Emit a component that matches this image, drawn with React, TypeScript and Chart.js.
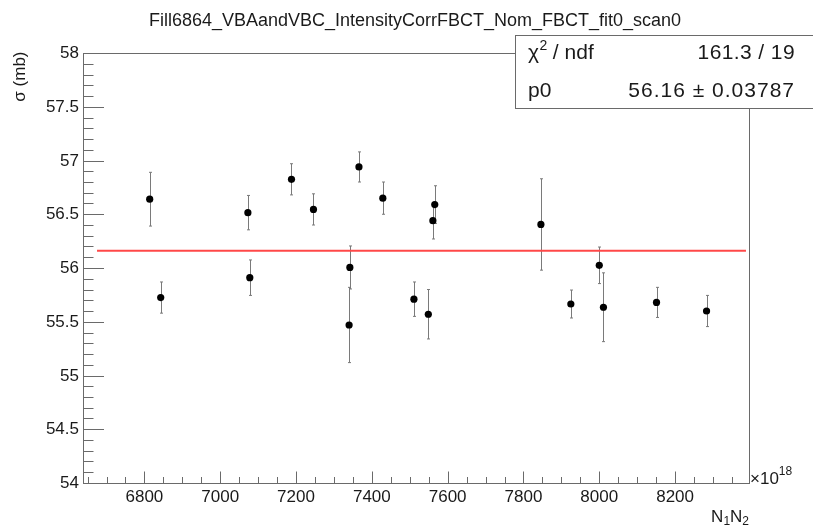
import React, { useEffect, useRef } from "react";
import { Chart, registerables } from "chart.js";

Chart.register(...registerables);

// ---- data ----
const xValues = [6814, 6843, 7073, 7078, 7188, 7246, 7340, 7342, 7366, 7429, 7511, 7549, 7561, 7566, 7846, 7925, 8000, 8011, 8151, 8283];
const sigmaValues = [56.64, 55.725, 56.515, 55.91, 56.825, 56.545, 55.47, 56.005, 56.94, 56.65, 55.71, 55.57, 56.44, 56.59, 56.405, 55.665, 56.025, 55.635, 55.68, 55.6];
const sigmaErrors = [0.25, 0.145, 0.16, 0.165, 0.145, 0.145, 0.35, 0.2, 0.14, 0.15, 0.16, 0.23, 0.17, 0.175, 0.425, 0.13, 0.17, 0.32, 0.14, 0.145];

const fitValue = 56.16;
const fitRange = [6675, 8387];

const xMajorTicks = [6800, 7000, 7200, 7400, 7600, 7800, 8000, 8200];
const xMinorTicks = [6650, 6700, 6750, 6850, 6900, 6950, 7050, 7100, 7150, 7250, 7300, 7350, 7450, 7500, 7550, 7650, 7700, 7750, 7850, 7900, 7950, 8050, 8100, 8150, 8250, 8300, 8350];
const yMajorTicks = [54, 54.5, 55, 55.5, 56, 56.5, 57, 57.5, 58];
const yMajorLabels = ["54", "54.5", "55", "55.5", "56", "56.5", "57", "57.5", "58"];
const yMinorTicks = [54.1, 54.2, 54.3, 54.4, 54.6, 54.7, 54.8, 54.9, 55.1, 55.2, 55.3, 55.4, 55.6, 55.7, 55.8, 55.9, 56.1, 56.2, 56.3, 56.4, 56.6, 56.7, 56.8, 56.9, 57.1, 57.2, 57.3, 57.4, 57.6, 57.7, 57.8, 57.9];

const titleText = "Fill6864_VBAandVBC_IntensityCorrFBCT_Nom_FBCT_fit0_scan0";
const yTitle = "σ (mb)";
const chi2Text = "161.3 / 19";
const p0Text = "56.16 ± 0.03787";

const X_MIN = 6638;
const X_MAX = 8395;
const Y_MIN = 54;
const Y_MAX = 58;

const FONT = '"Liberation Sans", Arial, Helvetica, sans-serif';
const AXIS_COLOR = "#6a6a6a";

const rootPlugin = {
  id: "rootStyle",
  beforeDatasetsDraw(chart: any) {
    const ctx = chart.ctx;
    const xs = chart.scales.x;
    const ys = chart.scales.y;
    ctx.save();
    ctx.strokeStyle = "#7a7a7a";
    ctx.lineWidth = 1;
    for (let i = 0; i < xValues.length; i++) {
      const px = Math.round(xs.getPixelForValue(xValues[i])) + 0.5;
      const yTop = ys.getPixelForValue(sigmaValues[i] + sigmaErrors[i]);
      const yBot = ys.getPixelForValue(sigmaValues[i] - sigmaErrors[i]);
      ctx.beginPath();
      ctx.moveTo(px, yTop);
      ctx.lineTo(px, yBot);
      ctx.moveTo(px - 1.5, yTop);
      ctx.lineTo(px + 1.5, yTop);
      ctx.moveTo(px - 1.5, yBot);
      ctx.lineTo(px + 1.5, yBot);
      ctx.stroke();
    }
    ctx.restore();
  },
  afterDraw(chart: any) {
    const ctx = chart.ctx;
    const xs = chart.scales.x;
    const ys = chart.scales.y;
    const area = chart.chartArea;
    const L = Math.round(area.left) + 0.5;
    const R = Math.round(area.right) + 0.5;
    const T = Math.round(area.top) + 0.5;
    const B = Math.round(area.bottom) + 0.5;
    ctx.save();
    // frame
    ctx.strokeStyle = AXIS_COLOR;
    ctx.lineWidth = 1;
    ctx.strokeRect(L, T, R - L, B - T);

    // y ticks (inside, left)
    ctx.beginPath();
    yMajorTicks.forEach((v) => {
      const py = Math.round(ys.getPixelForValue(v)) + 0.5;
      ctx.moveTo(L, py);
      ctx.lineTo(L + 20.5, py);
    });
    yMinorTicks.forEach((v) => {
      const py = Math.round(ys.getPixelForValue(v)) + 0.5;
      ctx.moveTo(L, py);
      ctx.lineTo(L + 10, py);
    });
    // x ticks (inside, bottom)
    xMajorTicks.forEach((v) => {
      const px = Math.round(xs.getPixelForValue(v)) + 0.5;
      ctx.moveTo(px, B);
      ctx.lineTo(px, B - 12);
    });
    xMinorTicks.forEach((v) => {
      const px = Math.round(xs.getPixelForValue(v)) + 0.5;
      ctx.moveTo(px, B);
      ctx.lineTo(px, B - 6.5);
    });
    ctx.stroke();

    // tick labels
    ctx.fillStyle = "#1a1a1a";
    ctx.font = `17px ${FONT}`;
    ctx.textAlign = "right";
    ctx.textBaseline = "middle";
    yMajorTicks.forEach((v, i) => {
      ctx.fillText(yMajorLabels[i], area.left - 4, ys.getPixelForValue(v) + 0.5);
    });
    ctx.textAlign = "center";
    ctx.textBaseline = "alphabetic";
    xMajorTicks.forEach((v) => {
      ctx.fillText(String(v), xs.getPixelForValue(v), area.bottom + 19);
    });

    // x10^18
    ctx.textAlign = "left";
    ctx.font = `17px ${FONT}`;
    ctx.fillText("×10", area.right + 1, area.bottom + 0.5);
    const w10 = ctx.measureText("×10").width;
    ctx.font = `12px ${FONT}`;
    ctx.fillText("18", area.right + 1 + w10, area.bottom - 8);

    // x title N1N2 right aligned
    const bigN = `17px ${FONT}`;
    const sub = `12px ${FONT}`;
    ctx.font = bigN;
    const nW = ctx.measureText("N").width;
    ctx.font = sub;
    const oneW = ctx.measureText("1").width;
    const twoW = ctx.measureText("2").width;
    let xx = area.right - (nW * 2 + oneW + twoW);
    const by = area.bottom + 38.5;
    ctx.font = bigN;
    ctx.fillText("N", xx, by);
    xx += nW;
    ctx.font = sub;
    ctx.fillText("1", xx, by + 3);
    xx += oneW;
    ctx.font = bigN;
    ctx.fillText("N", xx, by);
    xx += nW;
    ctx.font = sub;
    ctx.fillText("2", xx, by + 3);

    // y title rotated, right-aligned to top
    ctx.save();
    ctx.translate(25, area.top - 1.5);
    ctx.rotate(-Math.PI / 2);
    ctx.font = `17px ${FONT}`;
    ctx.textAlign = "right";
    ctx.textBaseline = "alphabetic";
    ctx.fillText(yTitle, 0, 0);
    ctx.restore();

    // title
    ctx.font = `18px ${FONT}`;
    ctx.textAlign = "center";
    ctx.textBaseline = "alphabetic";
    ctx.fillText(titleText, 415, 26);

    // stats box
    const bx = 515.5, byTop = 35.5, bw = 298, bh = 73;
    ctx.fillStyle = "#ffffff";
    ctx.fillRect(bx, byTop, bw, bh);
    ctx.strokeStyle = AXIS_COLOR;
    ctx.strokeRect(bx, byTop, bw + 2, bh);
    ctx.fillStyle = "#1a1a1a";
    ctx.font = `21px ${FONT}`;
    ctx.textAlign = "left";
    ctx.fillText("χ", 528, 59);
    const chiW = ctx.measureText("χ").width;
    ctx.font = `14px ${FONT}`;
    ctx.fillText("2", 528 + chiW + 0.5, 50);
    ctx.font = `21px ${FONT}`;
    ctx.fillText(" / ndf", 528 + chiW + 8, 59);
    ctx.fillText("p0", 528, 96.5);
    ctx.textAlign = "right";
    const c: any = ctx;
    c.letterSpacing = "0.4px";
    ctx.fillText(chi2Text, 795, 59);
    c.letterSpacing = "1px";
    ctx.fillText(p0Text, 795, 96.5);
    c.letterSpacing = "0px";
    ctx.restore();
  },
};

export default function App() {
  const canvasRef = useRef<HTMLCanvasElement | null>(null);

  useEffect(() => {
    document.body.style.margin = "0";
    const canvas = canvasRef.current;
    if (!canvas) return;
    const chart = new Chart(canvas, {
      type: "scatter",
      data: {
        datasets: [
          {
            type: "line",
            label: "fit",
            data: [
              { x: fitRange[0], y: fitValue },
              { x: fitRange[1], y: fitValue },
            ],
            borderColor: "#ff4848",
            borderWidth: 2,
            pointRadius: 0,
            fill: false,
          },
          {
            label: "sigma",
            data: xValues.map((x, i) => ({ x, y: sigmaValues[i] })),
            backgroundColor: "#000000",
            borderColor: "#000000",
            borderWidth: 0,
            pointRadius: 3.6,
            pointHoverRadius: 3.6,
          },
        ],
      } as any,
      options: {
        responsive: false,
        animation: false,
        events: [],
        layout: { padding: { left: 83, right: 64, top: 53, bottom: 43 } },
        plugins: {
          legend: { display: false },
          title: { display: false },
          tooltip: { enabled: false },
        },
        scales: {
          x: { type: "linear", min: X_MIN, max: X_MAX, display: false },
          y: { type: "linear", min: Y_MIN, max: Y_MAX, display: false },
        },
      },
      plugins: [rootPlugin],
    });
    return () => chart.destroy();
  }, []);

  return (
    <canvas
      ref={canvasRef}
      width={813}
      height={526}
      style={{ display: "block", width: 813, height: 526 }}
    />
  );
}
